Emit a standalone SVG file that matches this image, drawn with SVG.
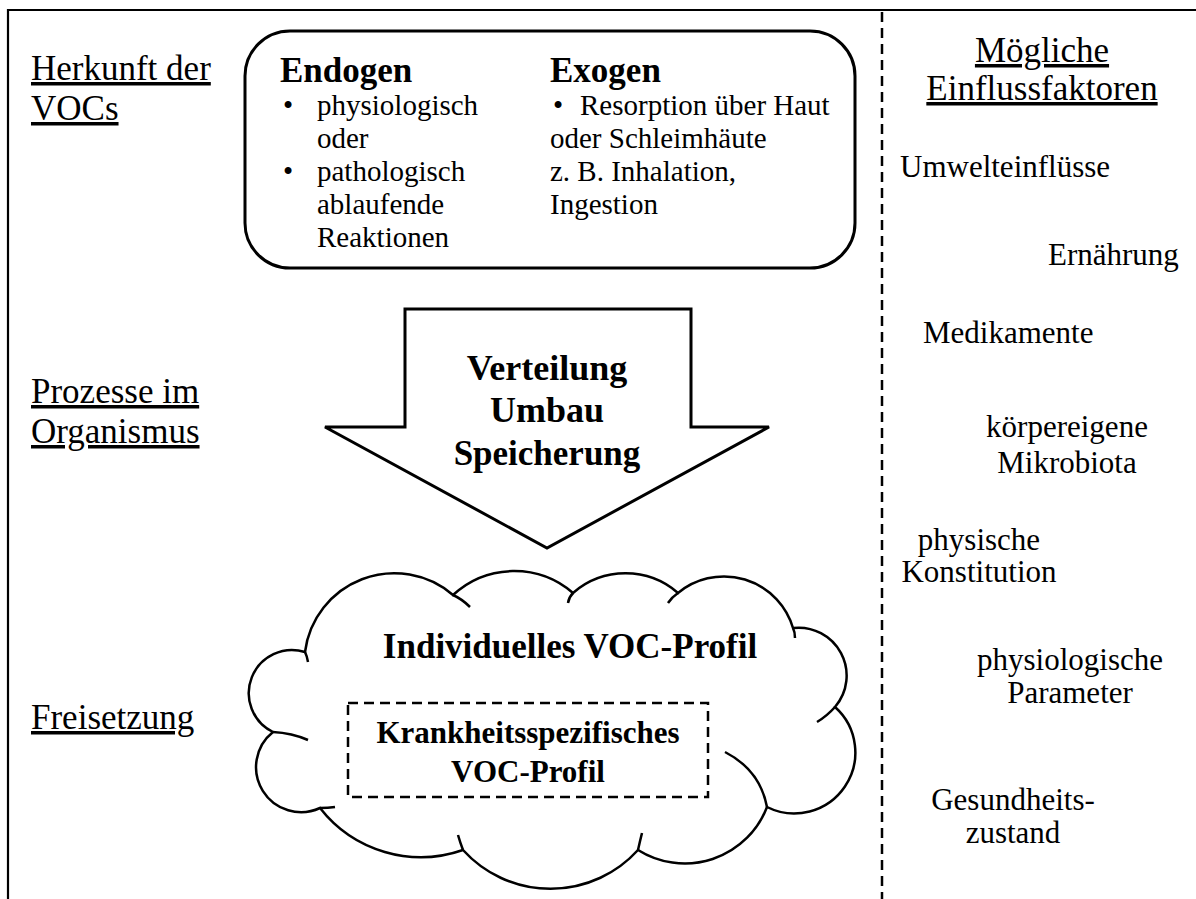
<svg xmlns="http://www.w3.org/2000/svg" width="1196" height="899" viewBox="0 0 1196 899">
<style>
text{font-family:"Liberation Serif","Times New Roman",serif;fill:#000}
.lbl{font-size:35px;text-decoration:underline}
.box{font-size:29px}
.rt{font-size:31px}
.b{font-weight:bold}
.ln{fill:none;stroke:#000}
</style>
<rect width="1196" height="899" fill="#fff"/>
<g id="frame">
<path class="ln" d="M8,899 V10 H1196" stroke-width="2.2"/>
<line class="ln" x1="882" y1="12" x2="882" y2="899" stroke-width="2.5" stroke-dasharray="10,6"/>
</g>
<g id="labels-left">
<text class="lbl" x="31" y="80">Herkunft der</text>
<text class="lbl" x="31" y="120">VOCs</text>
<text class="lbl" x="31" y="403">Prozesse im</text>
<text class="lbl" x="31" y="443">Organismus</text>
<text class="lbl" x="31" y="729">Freisetzung</text>
</g>
<g id="herkunft">
<rect class="ln" x="245" y="31" width="610" height="237" rx="45" ry="45" stroke-width="3"/>
<text class="b" x="280" y="82" font-size="35">Endogen</text>
<text class="box" x="283" y="115">•</text>
<text class="box" x="317" y="115">physiologisch</text>
<text class="box" x="317" y="148">oder</text>
<text class="box" x="283" y="181">•</text>
<text class="box" x="317" y="181">pathologisch</text>
<text class="box" x="317" y="214">ablaufende</text>
<text class="box" x="317" y="247">Reaktionen</text>
<text class="b" x="550" y="82" font-size="35">Exogen</text>
<text class="box" x="553" y="115">•</text>
<text class="box" x="580" y="115">Resorption über Haut</text>
<text class="box" x="550" y="148">oder Schleimhäute</text>
<text class="box" x="550" y="181">z. B. Inhalation,</text>
<text class="box" x="550" y="214">Ingestion</text>
</g>
<g id="prozesse">
<path class="ln" d="M405,309 H691 V427 H769 L547,548 L325,427 H405 Z" stroke-width="3" stroke-linejoin="miter"/>
<text class="b" x="547" y="380" font-size="36" text-anchor="middle">Verteilung</text>
<text class="b" x="547" y="422" font-size="36" text-anchor="middle">Umbau</text>
<text class="b" x="547" y="465" font-size="35" text-anchor="middle">Speicherung</text>
</g>
<g id="voc-profil">
<path class="ln" stroke-width="2.5" d="M305,652 A90,90 0 0 1 453,595 A90,90 0 0 1 573,593 A80,80 0 0 1 678,593 A72,72 0 0 1 793,628 A48,48 0 0 1 835,707 A61,61 0 0 1 767,807 A88,88 0 0 1 638,850 A118,118 0 0 1 463,850 A128,128 0 0 1 320,808 A45,45 0 0 1 273,732 A43.2,43.2 0 0 1 305,652 Z"/>
<path class="ln" stroke-width="2.5" d="M453,595 Q462,599 470,607 M573,593 Q569,597 568,603 M678,593 Q672,597 668,603 M793,628 Q795,632 795,638 M835,707 Q827,716 817,722 M767,807 Q760,770 725,752 M638,850 Q640,841 642,833 M463,850 Q460,842 458,835 M320,808 Q328,808 335,807 M273,732 Q292,733 308,740 M305,652 Q307,656 308,662"/>
<text class="b" x="570" y="658" font-size="35" text-anchor="middle">Individuelles VOC-Profil</text>
</g>
<g id="krankheitsprofil">
<rect class="ln" x="348" y="703" width="360" height="94" stroke-width="2.5" stroke-dasharray="10,6"/>
<text class="b" x="528" y="743" font-size="31" text-anchor="middle">Krankheitsspezifisches</text>
<text class="b" x="528" y="782" font-size="31" text-anchor="middle">VOC-Profil</text>
</g>
<g id="einflussfaktoren">
<text class="lbl" x="1042" y="62" text-anchor="middle">Mögliche</text>
<text class="lbl" x="1042" y="100" text-anchor="middle">Einflussfaktoren</text>
<text class="rt" x="900" y="177">Umwelteinflüsse</text>
<text class="rt" x="1048" y="265">Ernährung</text>
<text class="rt" x="923" y="343">Medikamente</text>
<text class="rt" x="1067" y="437" text-anchor="middle">körpereigene</text>
<text class="rt" x="1067" y="473" text-anchor="middle">Mikrobiota</text>
<text class="rt" x="979" y="550" text-anchor="middle">physische</text>
<text class="rt" x="979" y="582" text-anchor="middle">Konstitution</text>
<text class="rt" x="1070" y="670" text-anchor="middle">physiologische</text>
<text class="rt" x="1070" y="703" text-anchor="middle">Parameter</text>
<text class="rt" x="1013" y="810" text-anchor="middle">Gesundheits-</text>
<text class="rt" x="1013" y="843" text-anchor="middle">zustand</text>
</g>
</svg>
